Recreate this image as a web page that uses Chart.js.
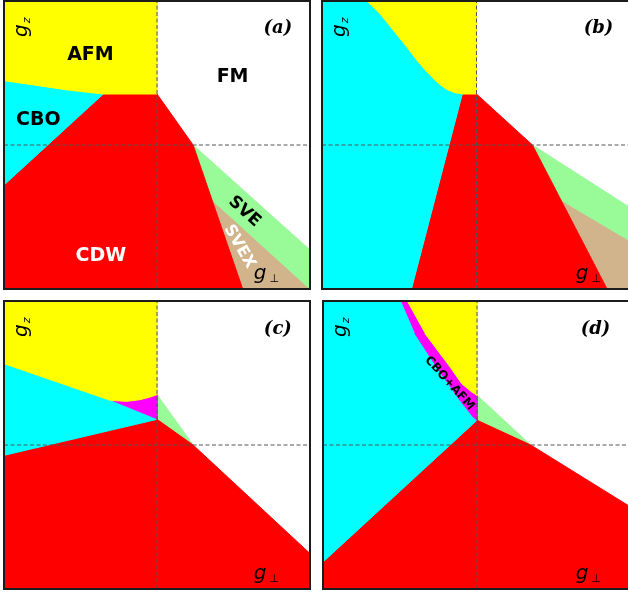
<!DOCTYPE html>
<html>
<head>
<meta charset="utf-8">
<script src="https://cdn.jsdelivr.net/npm/chart.js@4.4.1/dist/chart.umd.min.js"></script>
<style>
  html, body { margin: 0; padding: 0; background: #fff; width: 628px; height: 595px; overflow: hidden; }
  canvas { position: absolute; }
</style>
</head>
<body>
<canvas id="panelA" width="310" height="292" style="left:2px;top:-1px"></canvas>
<canvas id="panelB" width="313" height="292" style="left:320px;top:-1px"></canvas>
<canvas id="panelC" width="310" height="292" style="left:2px;top:299px"></canvas>
<canvas id="panelD" width="312" height="292" style="left:321px;top:299px"></canvas>
<script>
// Phase boundaries in the (g_perp, g_z) plane, both axes scaled to [-1, 1],
// dashed lines mark g_perp = 0 and g_z = 0.

// Panel (a)
const aAFM  = [[-1, 1], [0, 1], [0, 0.354], [-0.351, 0.354], [-0.584, 0.382], [-0.805, 0.417], [-1, 0.447]];
const aCBO  = [[-1, 0.447], [-0.805, 0.417], [-0.584, 0.382], [-0.351, 0.354], [-1, -0.278]];
const aCDW  = [[-1, -0.278], [-0.351, 0.354], [0, 0.354], [0.236, 0], [0.56, -1], [-1, -1]];
const aSVE  = [[0.236, 0], [1, -0.729], [1, -1], [0.36, -0.382]];
const aSVEX = [[0.36, -0.382], [1, -1], [0.56, -1]];

// Panel (b): AFM / CBO boundary, read from top to bottom
const bEdge = [[-0.709, 1], [-0.627, 0.915], [-0.54, 0.799], [-0.453, 0.683], [-0.378, 0.578], [-0.313, 0.498],
               [-0.248, 0.429], [-0.194, 0.387], [-0.14, 0.363], [-0.096, 0.356], [-0.092, 0.354]];
const bAFM  = [[0, 1], [0, 0.354]].concat(bEdge.slice().reverse());
const bCBO  = [[-1, 1]].concat(bEdge, [[-0.421, -1], [-1, -1]]);
const bCDW  = [[-0.092, 0.354], [0, 0.354], [0.362, 0], [0.845, -1], [-0.421, -1]];
const bSVE  = [[0.362, 0], [1, -0.439], [1, -0.67], [0.546, -0.382]];
const bSVEX = [[0.546, -0.382], [1, -0.67], [1, -1], [0.845, -1]];

// Panel (c)
const cAFM  = [[-1, 1], [0, 1], [0, 0.35], [-0.045, 0.333], [-0.11, 0.315], [-0.197, 0.303], [-0.305, 0.31], [-1, 0.565]];
const cMIX  = [[-0.305, 0.31], [-0.197, 0.303], [-0.11, 0.315], [-0.045, 0.333], [0, 0.35], [0, 0.178]];
const cCBO  = [[-1, 0.565], [-0.305, 0.31], [0, 0.178], [-1, -0.072]];
const cCDW  = [[-1, -0.072], [0, 0.178], [0.236, 0], [1, -0.754], [1, -1], [-1, -1]];
const cSVE  = [[0, 0.35], [0.236, 0], [0, 0.178]];

// Panel (d)
const dAFM  = [[-0.456, 1], [0, 1], [0, 0.345], [-0.034, 0.368], [-0.099, 0.426], [-0.175, 0.542], [-0.338, 0.774]];
const dMIX  = [[-0.494, 1], [-0.456, 1], [-0.338, 0.774], [-0.175, 0.542], [-0.099, 0.426], [-0.034, 0.368], [0, 0.345],
               [0, 0.172], [-0.024, 0.194], [-0.11, 0.31], [-0.262, 0.542], [-0.403, 0.774]];
const dCBO  = [[-1, 1], [-0.494, 1], [-0.403, 0.774], [-0.262, 0.542], [-0.11, 0.31], [-0.024, 0.194], [0, 0.172], [-1, -0.8125]];
const dCDW  = [[-1, -0.8125], [0, 0.172], [0.349, 0], [1, -0.432], [1, -1], [-1, -1]];
const dSVE  = [[0, 0.345], [0.349, 0], [0, 0.172]];

const PHASE_COLORS = {
  AFM: '#ffff00', CBO: '#00ffff', CDW: '#ff0000', SVE: '#98fb98', SVEX: '#d2b48c', MIX: '#ff00ff'
};

const BOLD = 'bold 19px "DejaVu Sans", Verdana, sans-serif';
const MATH = 'italic 20px "DejaVu Sans", sans-serif';
const SUB  = 'italic 11px "DejaVu Sans", sans-serif';
const TAG  = 'bold italic 18px "DejaVu Serif", serif';

function axisTexts(tag, gzAt, gpAt, tagAt) {
  return [
    { text: 'g', sub: 'z', at: gzAt, angle: -90, font: MATH, subFont: SUB, align: 'left', baseline: 'alphabetic', subDx: 1, subDy: 3 },
    { text: 'g', sub: '\u22a5', at: gpAt, font: MATH, subFont: SUB, align: 'left', baseline: 'alphabetic', subDx: 3, subDy: 3 },
    { text: tag, at: tagAt, font: TAG }
  ];
}

const textsA = axisTexts('(a)', [-0.85, 0.75], [0.632, -0.93], [0.79, 0.81]).concat([
  { text: 'AFM', at: [-0.435, 0.625], font: BOLD },
  { text: 'FM', at: [0.494, 0.469], font: BOLD },
  { text: 'CBO', at: [-0.776, 0.174], font: BOLD },
  { text: 'CDW', at: [-0.367, -0.771], font: BOLD, color: '#fff' },
  { text: 'SVE', at: [0.571, -0.463], font: 'bold 17px "DejaVu Sans", sans-serif', angle: 42 },
  { text: 'SVEX', at: [0.539, -0.706], font: 'bold 16px "DejaVu Sans", sans-serif', angle: 60, color: '#fff' }
]);
const textsB = axisTexts('(b)', [-0.85, 0.75], [0.642, -0.93], [0.79, 0.81]);
const textsC = axisTexts('(c)', [-0.85, 0.75], [0.632, -0.93], [0.79, 0.80]);
const textsD = axisTexts('(d)', [-0.85, 0.75], [0.642, -0.93], [0.77, 0.80]).concat([
  { text: 'CBO+AFM', at: [-0.179, 0.428], font: 'bold 12px "DejaVu Sans", sans-serif', angle: 48 }
]);

// Labels, subscripts and the panel frame.
const panelDecor = {
  id: 'panelDecor',
  afterDatasetsDraw(chart, args, opts) {
    const { ctx, chartArea: a, scales: { x, y } } = chart;
    for (const t of opts.texts || []) {
      ctx.save();
      ctx.translate(x.getPixelForValue(t.at[0]), y.getPixelForValue(t.at[1]));
      ctx.rotate((t.angle || 0) * Math.PI / 180);
      ctx.font = t.font;
      ctx.fillStyle = t.color || '#000';
      ctx.textAlign = t.align || 'center';
      ctx.textBaseline = t.baseline || 'middle';
      ctx.fillText(t.text, 0, 0);
      if (t.sub) {
        const w = ctx.measureText(t.text).width;
        ctx.font = t.subFont;
        ctx.textAlign = 'left';
        ctx.fillText(t.sub, w + t.subDx, t.subDy);
      }
      ctx.restore();
    }
    ctx.save();
    ctx.lineWidth = 2;
    ctx.strokeStyle = '#1c1c1c';
    ctx.strokeRect(a.left, a.top, a.right - a.left, a.bottom - a.top);
    ctx.restore();
  }
};

function region(points, color) {
  return {
    data: points.map(([x, y]) => ({ x, y })),
    showLine: true,
    fill: 'shape',
    backgroundColor: color,
    borderColor: color,
    borderWidth: 1,
    pointRadius: 0,
    tension: 0
  };
}

function guide(points) {
  return {
    data: points.map(([x, y]) => ({ x, y })),
    showLine: true,
    fill: false,
    borderColor: '#555',
    borderWidth: 1,
    borderDash: [4, 2.5],
    pointRadius: 0
  };
}

function makePanel(id, regions, texts) {
  const datasets = [guide([[0, -1], [0, 1]]), guide([[-1, 0], [1, 0]])]
    .concat(regions.map(([pts, name]) => region(pts, PHASE_COLORS[name])));
  new Chart(document.getElementById(id), {
    type: 'scatter',
    data: { datasets },
    options: {
      responsive: false,
      animation: false,
      events: [],
      layout: { padding: 2 },
      plugins: { legend: { display: false }, tooltip: { enabled: false }, panelDecor: { texts } },
      scales: {
        x: { type: 'linear', min: -1, max: 1, display: false },
        y: { type: 'linear', min: -1, max: 1, display: false }
      }
    },
    plugins: [panelDecor]
  });
}

makePanel('panelA', [[aAFM, 'AFM'], [aCBO, 'CBO'], [aCDW, 'CDW'], [aSVE, 'SVE'], [aSVEX, 'SVEX']], textsA);
makePanel('panelB', [[bAFM, 'AFM'], [bCBO, 'CBO'], [bCDW, 'CDW'], [bSVE, 'SVE'], [bSVEX, 'SVEX']], textsB);
makePanel('panelC', [[cAFM, 'AFM'], [cMIX, 'MIX'], [cCBO, 'CBO'], [cCDW, 'CDW'], [cSVE, 'SVE']], textsC);
makePanel('panelD', [[dAFM, 'AFM'], [dMIX, 'MIX'], [dCBO, 'CBO'], [dCDW, 'CDW'], [dSVE, 'SVE']], textsD);
</script>
</body>
</html>
